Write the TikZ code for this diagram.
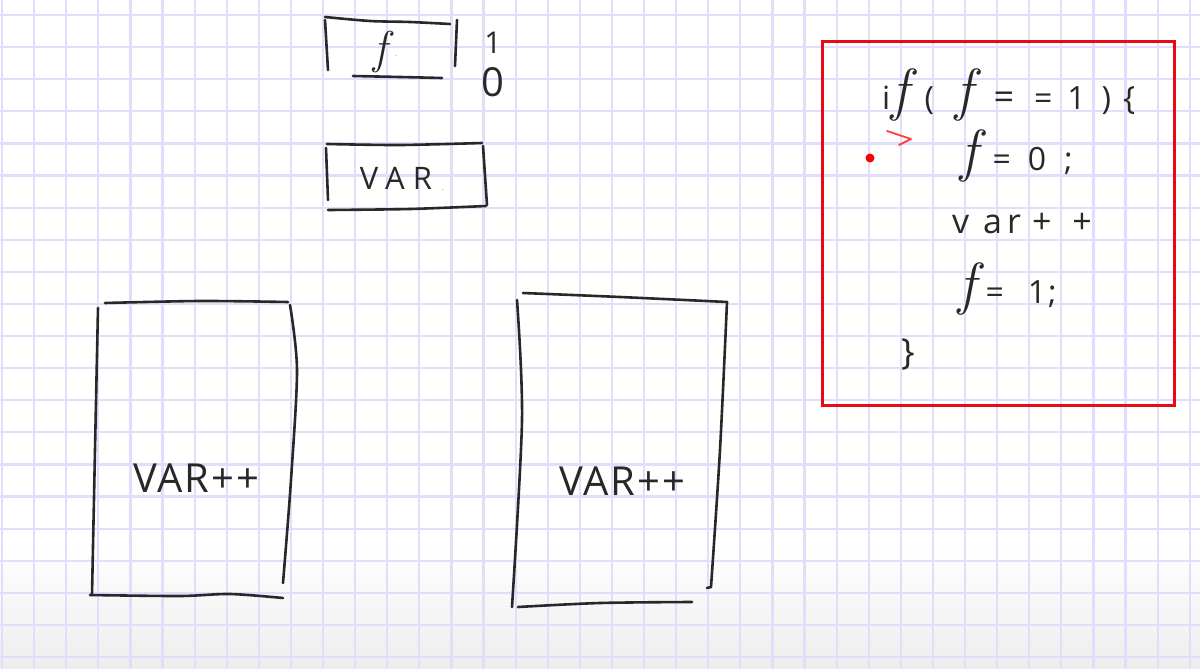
\documentclass[tikz,border=0pt]{standalone}
\usepackage{fontspec}
\setmainfont{Open Sans}
\newfontfamily\lmfam{Latin Modern Roman}
\newcommand{\handf}[1]{{\lmfam\itshape\fontsize{#1}{#1}\selectfont f}}
\begin{document}
\begin{tikzpicture}[x=1pt,y=-1pt,
  gridline/.style={draw={rgb,255:red,224;green,222;blue,250},line width=2.2pt},
  pen/.style={draw={rgb,255:red,40;green,40;blue,40},line width=2.6pt,line cap=round,line join=round},
  hand/.style={text={rgb,255:red,40;green,40;blue,40},inner sep=0pt},
  code/.style={hand,anchor=base west,font=\fontsize{32}{32}\selectfont},
  redbox/.style={draw={rgb,255:red,235;green,10;blue,20},line width=3pt}]
\useasboundingbox (0,0) rectangle (1200,669);
\fill[white] (0,0) rectangle (1200,669);
\shade[top color=white,bottom color=black!7] (0,545) rectangle (1200,669);
\foreach \i in {0,...,37} \draw[gridline] ({2+32.1*\i},0) -- ++(0,669);
\foreach \j in {0,...,20} \draw[gridline] (0,{15+32.1*\j}) -- ++(1200,0);

% small box f
\draw[pen] plot[smooth] coordinates {(325,17) (370,21) (410,22) (450,24)};
\draw[pen] (325,20) -- (328,70);
\draw[pen] (457,20) -- (455,66);
\draw[pen] plot[smooth] coordinates {(353,76) (400,77) (442,78)};
\node[hand] (flag) at (380,52) {\handf{46}};
\node[hand,font=\fontsize{6}{6}\selectfont] (flagdot) at (396,56) {.};
\node[hand,font=\fontsize{30}{30}\selectfont] (one) at (493,43) {1};
\node[hand,font=\fontsize{40}{40}\selectfont] (zero) at (493,82) {0};

% VAR box
\draw[pen] plot[smooth] coordinates {(327,144) (400,145) (482,143)};
\draw[pen] (326,148) -- (328,200);
\draw[pen] (483,146) -- (487,205);
\draw[pen] plot[smooth] coordinates {(328,210) (410,209) (486,206)};
\node[hand,font=\fontsize{31}{31}\selectfont\addfontfeatures{LetterSpace=26}] (var) at (396,178) {VAR};
\node[hand,font=\fontsize{6}{6}\selectfont] (vardot) at (443,190) {.};

% left big box
\draw[pen] plot[smooth] coordinates {(105,303) (200,301) (288,302)};
\draw[pen] plot[smooth] coordinates {(98,308) (95,450) (92,595)};
\draw[pen] plot[smooth] coordinates {(290,305) (297,370) (291,480) (283,583)};
\draw[pen] plot[smooth] coordinates {(90,595) (180,596) (230,594) (283,598)};
\node[hand,font=\fontsize{40}{40}\selectfont\addfontfeatures{LetterSpace=5}] (inc1) at (196,478) {VAR++};

% right big box
\draw[pen] plot[smooth] coordinates {(523,293) (620,297) (727,302)};
\draw[pen] plot[smooth] coordinates {(517,300) (522,420) (512,607)};
\draw[pen] plot[smooth] coordinates {(727,302) (720,450) (711,587)};
\draw[pen] (711,587) -- (707,588);
\draw[pen] plot[smooth] coordinates {(518,607) (600,603) (692,602)};
\node[hand,font=\fontsize{40}{40}\selectfont\addfontfeatures{LetterSpace=5}] (inc2) at (622,481) {VAR++};

% code box
\draw[redbox] (822,42) rectangle (1174,405);
\node[code] (l1) at (882,110)
  {i\hspace{1pt}\handf{58}\hspace{16pt}(\hspace{21pt}\handf{58}\hspace{21pt}{\fontsize{36}{36}\selectfont=}\hspace{20pt}=\hspace{15pt}1\hspace{16pt})\hspace{12pt}\{};
\node[code] (l2) at (960,170)
  {\handf{58}\hspace{15pt}=\hspace{17pt}0\hspace{18pt};};
\node[code,font=\fontsize{34}{34}\selectfont] (l3) at (952,233)
  {v\hspace{14pt}a\hspace{5pt}r\hspace{11pt}+\hspace{21pt}+};
\node[code] (l4) at (958,303)
  {\handf{58}\hspace{10pt}=\hspace{24pt}1\hspace{2pt};};
\node[hand,font=\fontsize{36}{36}\selectfont] (l5) at (908,354) {\}};
\fill[red] (870,158) circle (4.5);
\draw[red!75,line width=1.8pt,line cap=round,line join=round] (887,131) -- (911,139) -- (899,145);
\end{tikzpicture}
\end{document}
